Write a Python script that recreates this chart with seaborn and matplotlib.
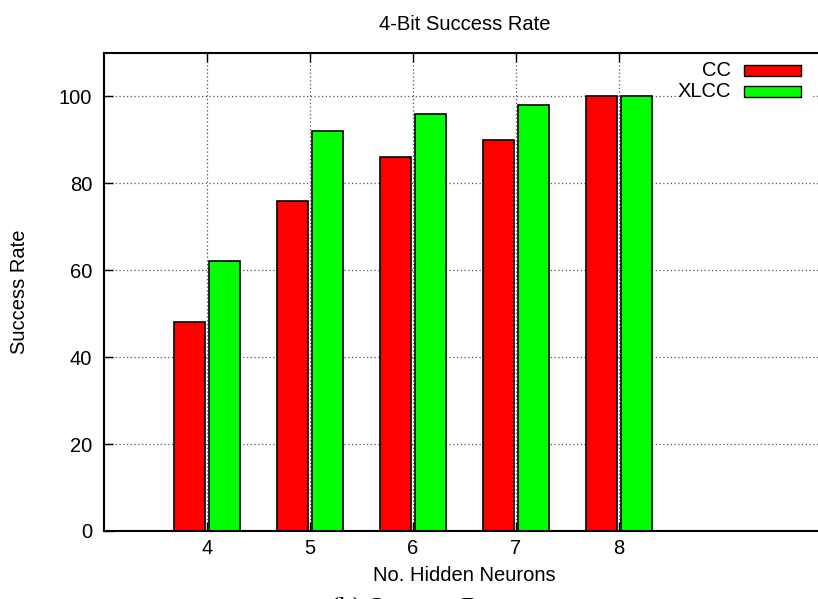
import matplotlib
matplotlib.use("Agg")
import matplotlib.pyplot as plt
from matplotlib.patches import Rectangle
import seaborn as sns
import pandas as pd

# ---- data ----
neurons = ["4", "5", "6", "7", "8"]
cc_rate = [48, 76, 86, 90, 100]
xlcc_rate = [62, 92, 96, 98, 100]
methods = ["CC", "XLCC"]
colors = ["#ff0000", "#00ff00"]
y_ticks = [0, 20, 40, 60, 80, 100]

df = pd.DataFrame({
    "neurons": neurons * 2,
    "rate": cc_rate + xlcc_rate,
    "method": [methods[0]] * len(neurons) + [methods[1]] * len(neurons),
})

plt.rcParams["font.family"] = ["Liberation Sans", "DejaVu Sans"]
FS = 14.5

W, H = 818, 599
fig = plt.figure(figsize=(W / 100, H / 100), dpi=100)
L, R, T, B = 104, 825, 52.7, 531
ax = fig.add_axes([L / W, (H - B) / H, (R - L) / W, (B - T) / H])

sns.barplot(data=df, x="neurons", y="rate", hue="method", order=neurons,
            hue_order=methods, palette=colors, width=0.67, gap=0.1,
            edgecolor="black", linewidth=1.2, saturation=1, legend=False,
            ax=ax, zorder=2)

ax.set_xlim(-1, 6)
ax.set_ylim(0, 110)
ax.set_yticks(y_ticks)
ax.set_xticks(range(len(neurons)))
ax.set_xticklabels(neurons)

ax.set_axisbelow(True)
ax.grid(True, which="major", axis="both", color="#555555",
        linestyle=(0, (1, 2)), linewidth=0.9)

for s in ax.spines.values():
    s.set_linewidth(1.5)
    s.set_color("black")

ax.tick_params(axis="x", direction="in", length=6.5, width=1, top=True,
               bottom=True, labelsize=FS, pad=5.8)
ax.tick_params(axis="y", direction="in", length=6.5, width=1, left=True,
               right=False, labelsize=FS, pad=8.6)

ax.set_title("4-Bit Success Rate", fontsize=FS, pad=16.3)
ax.set_xlabel("No. Hidden Neurons", fontsize=FS, labelpad=5.8)
ax.set_ylabel("Success Rate", fontsize=FS)
ax.yaxis.set_label_coords((29 - L) / (R - L), 0.5)

# key (opaque box, labels to the left of swatches)
def fx(px):
    return (px - L) / (R - L)

def fy(py):
    return (B - py) / (B - T)

ax.add_patch(Rectangle((fx(676), fy(100)), fx(813) - fx(676), fy(58) - fy(100),
                       transform=ax.transAxes, facecolor="white",
                       edgecolor="none", zorder=1.5))
key_rows = [(65.0, 75.7), (86.0, 96.7)]
for (top, bot), lab, col in zip(key_rows, methods, colors):
    ax.add_patch(Rectangle((fx(744), fy(bot)), fx(801) - fx(744), fy(top) - fy(bot),
                           transform=ax.transAxes, facecolor=col,
                           edgecolor="black", linewidth=1, zorder=3))
    ax.text(fx(731), fy(bot), lab, transform=ax.transAxes, ha="right",
            va="baseline", fontsize=FS, zorder=3)

# caption of the sub-figure, cut off at the bottom edge as in the reference
fig.text(330 / W, (H - 616.5) / H, "(b) Success Rate",
         family=["Liberation Serif", "DejaVu Serif"], fontsize=19.5,
         va="baseline", ha="left")

fig.savefig("out.png", dpi=100)
